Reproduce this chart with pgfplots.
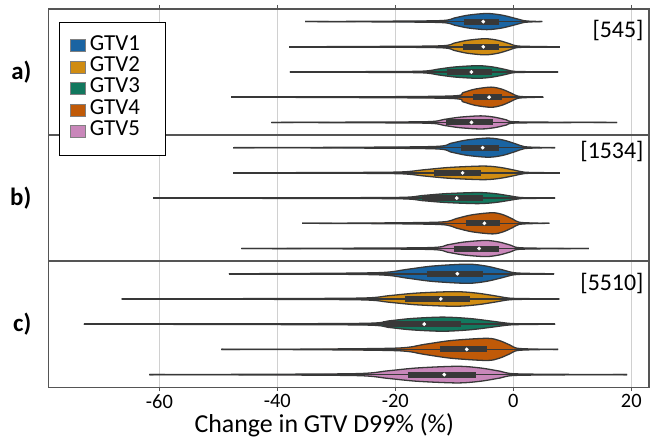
\documentclass[border=0pt]{standalone}
\usepackage{fontspec}
\setmainfont{Carlito}
\usepackage{pgfplots}
\usepackage{pgfplotstable}
\pgfplotsset{compat=1.18}
\usepgfplotslibrary{fillbetween}

\definecolor{gtvone}{HTML}{1A64A2}
\definecolor{gtvtwo}{HTML}{D08C12}
\definecolor{gtvthree}{HTML}{12785E}
\definecolor{gtvfour}{HTML}{C05A08}
\definecolor{gtvfive}{HTML}{C987BA}
\definecolor{vline}{HTML}{383838}
\definecolor{framegray}{HTML}{555555}
\definecolor{gridgray}{HTML}{D0D0D0}

% violin outlines: x = change (%), h = half width (one row = 1)
% panel a) [545]
\pgfplotstableread{
x h
-35.3 0
-23.8 0.012
-12.3 0.038
-9.96 0.144
-7.62 0.256
-4.5 0.32
-1.94 0.256
0.3 0.128
1.9 0.032
3.4 0.01
4.9 0
}\vaa
\pgfplotstableread{
x h
-38.0 0
-25.2 0.012
-12.3 0.038
-10.05 0.144
-7.8 0.256
-4.8 0.32
-2.6 0.256
-0.7 0.128
0.7 0.032
4.3 0.01
7.9 0
}\vab
\pgfplotstableread{
x h
-37.9 0
-26.8 0.012
-15.7 0.03
-12.8 0.112
-9.9 0.2
-6.0 0.25
-3.5 0.2
-1.35 0.1
0.2 0.025
3.9 0.01
7.6 0
}\vac
\pgfplotstableread{
x h
-47.8 0
-29.2 0.012
-10.6 0.048
-8.56 0.18
-6.52 0.32
-3.8 0.40
-1.96 0.32
-0.35 0.16
0.8 0.04
2.95 0.01
5.1 0
}\vad
\pgfplotstableread{
x h
-41.0 0
-27.8 0.012
-14.5 0.031
-11.8 0.117
-9.1 0.208
-5.5 0.26
-3.2 0.208
-1.2 0.104
0.2 0.026
8.9 0.008
17.6 0
}\vae
% panel b) [1534]
\pgfplotstableread{
x h
-47.5 0
-30.5 0.012
-13.4 0.046
-10.64 0.171
-7.88 0.304
-4.2 0.38
-1.76 0.304
0.38 0.152
1.9 0.038
4.5 0.01
7.1 0
}\vba
\pgfplotstableread{
x h
-47.5 0
-33.6 0.012
-19.6 0.032
-15.2 0.122
-10.8 0.216
-5.0 0.27
-2.24 0.216
0.18 0.108
1.9 0.027
4.9 0.01
7.9 0
}\vbb
\pgfplotstableread{
x h
-61.0 0
-40.3 0.012
-19.6 0.026
-15.5 0.099
-11.4 0.176
-6.0 0.22
-3.1 0.176
-0.6 0.088
1.2 0.022
4.15 0.01
7.1 0
}\vbc
\pgfplotstableread{
x h
-35.8 0
-24.0 0.012
-12.3 0.05
-9.66 0.189
-7.02 0.336
-3.5 0.42
-1.7 0.336
-0.1 0.168
1.0 0.042
3.55 0.01
6.1 0
}\vbd
\pgfplotstableread{
x h
-46.1 0
-30.0 0.012
-14.0 0.038
-11.2 0.144
-8.4 0.256
-4.7 0.32
-2.4 0.256
-0.4 0.128
1.0 0.032
6.9 0.008
12.8 0
}\vbe
% panel c) [5510]
\pgfplotstableread{
x h
-48.2 0
-35.4 0.012
-22.5 0.046
-18.1 0.171
-13.7 0.304
-7.8 0.38
-4.6 0.304
-1.8 0.152
0.2 0.038
3.55 0.01
6.9 0
}\vca
\pgfplotstableread{
x h
-66.4 0
-46.2 0.012
-25.9 0.035
-21.1 0.13
-16.4 0.232
-10.0 0.29
-6.2 0.232
-2.9 0.116
-0.5 0.029
3.65 0.01
7.8 0
}\vcb
\pgfplotstableread{
x h
-72.8 0
-49.0 0.012
-25.2 0.034
-21.24 0.126
-17.3 0.224
-12.0 0.28
-7.4 0.224
-3.4 0.112
-0.5 0.028
3.3 0.01
7.1 0
}\vcc
\pgfplotstableread{
x h
-49.5 0
-34.6 0.012
-19.6 0.053
-15.1 0.198
-10.5 0.352
-4.5 0.44
-2.4 0.352
-0.6 0.176
0.7 0.044
4.15 0.01
7.6 0
}\vcd
\pgfplotstableread{
x h
-61.7 0
-44.0 0.012
-26.4 0.04
-21.3 0.149
-16.3 0.264
-9.5 0.33
-5.6 0.264
-2.2 0.132
0.2 0.033
9.75 0.008
19.3 0
}\vce

% #1 id, #2 row, #3 colour, #4 table, #5 min, #6 max, #7 q1, #8 q3, #9 median
\newcommand{\violin}[9]{%
  \addplot[forget plot, draw=vline, line width=1.3pt, smooth, name path=up#1]
    table[x=x, y expr=#2+\thisrow{h}] {#4};
  \addplot[forget plot, draw=vline, line width=1.3pt, smooth, name path=dn#1]
    table[x=x, y expr=#2-\thisrow{h}] {#4};
  \addplot[forget plot, fill=#3, draw=none] fill between[of=up#1 and dn#1];
  \addplot[forget plot, vline, line width=1.6pt] coordinates {(#5,#2) (#6,#2)};
  \addplot[forget plot, vline, line width=6pt] coordinates {(#7,#2) (#8,#2)};
  \addplot[forget plot, only marks, mark=*, mark size=1.7pt, white] coordinates {(#9,#2)};
}

\begin{document}
\begin{tikzpicture}
\path (0pt,0pt) rectangle (653pt,443pt);
\begin{axis}[
  at={(49pt,54pt)}, anchor=south west,
  scale only axis, width=603pt, height=380pt,
  set layers,
  xmin=-78.75, xmax=23, ymin=0, ymax=15, y dir=reverse,
  xtick={-60,-40,-20,0,20},
  ytick={2.5,7.5,12.5}, yticklabels={a),b),c)},
  ytick style={draw=none},
  tick align=outside, major tick length=4pt,
  xtick style={framegray, line width=1pt},
  xmajorgrids, grid style={gridgray, line width=1.3pt},
  extra y ticks={5,10}, extra y tick labels={},
  extra y tick style={grid=major, major grid style={framegray, line width=1.3pt}, tick style={draw=none}},
  axis line style={framegray, line width=1.3pt},
  /pgf/number format/assume math mode=true,
  xticklabel style={font=\fontsize{20.5}{20.5}\selectfont},
  yticklabel style={font=\bfseries\fontsize{25}{25}\selectfont, xshift=-10pt},
  xlabel={Change in GTV D99\% (\%)},
  xlabel style={font=\fontsize{26}{26}\selectfont, at={(axis description cs:0.459,-0.1)}, anchor=center},
  legend image code/.code={\draw[#1, draw=gray] (0pt,-6pt) rectangle (15pt,6pt);},
  legend style={at={(axis description cs:0.0166,0.966)}, anchor=north west,
    draw=black, line width=0.8pt, inner xsep=11pt, inner ysep=13pt,
    font=\fontsize{23}{23}\selectfont,
    nodes={inner ysep=0pt, inner xsep=4pt, text height=15pt, text depth=6.5pt}},
  legend cell align=left,
]
\addlegendimage{fill=gtvone}\addlegendentry{GTV1\hspace*{11pt}}
\addlegendimage{fill=gtvtwo}\addlegendentry{GTV2}
\addlegendimage{fill=gtvthree}\addlegendentry{GTV3}
\addlegendimage{fill=gtvfour}\addlegendentry{GTV4}
\addlegendimage{fill=gtvfive}\addlegendentry{GTV5}

\violin{aa}{0.5}{gtvone}{\vaa}{-35.3}{4.9}{-8.3}{-2.4}{-5.1}
\violin{ab}{1.5}{gtvtwo}{\vab}{-38.0}{7.9}{-8.5}{-2.5}{-5.1}
\violin{ac}{2.5}{gtvthree}{\vac}{-37.9}{7.6}{-11.3}{-3.7}{-7.1}
\violin{ad}{3.5}{gtvfour}{\vad}{-47.8}{5.1}{-6.8}{-1.9}{-4.1}
\violin{ae}{4.5}{gtvfive}{\vae}{-41.0}{17.6}{-11.5}{-3.4}{-7.1}

\violin{ba}{5.5}{gtvone}{\vba}{-47.5}{7.1}{-8.9}{-2.5}{-5.2}
\violin{bb}{6.5}{gtvtwo}{\vbb}{-47.5}{7.9}{-13.4}{-5.4}{-8.6}
\violin{bc}{7.5}{gtvthree}{\vbc}{-61.0}{7.1}{-15.5}{-5.2}{-9.6}
\violin{bd}{8.5}{gtvfour}{\vbd}{-35.8}{6.1}{-8.1}{-2.2}{-4.9}
\violin{be}{9.5}{gtvfive}{\vbe}{-46.1}{12.8}{-10.0}{-2.5}{-5.8}

\violin{ca}{10.5}{gtvone}{\vca}{-48.2}{6.9}{-14.7}{-5.2}{-9.5}
\violin{cb}{11.5}{gtvtwo}{\vcb}{-66.4}{7.8}{-18.3}{-7.4}{-12.3}
\violin{cc}{12.5}{gtvthree}{\vcc}{-72.8}{7.1}{-22.1}{-8.8}{-15.1}
\violin{cd}{13.5}{gtvfour}{\vcd}{-49.5}{7.6}{-12.5}{-4.4}{-7.9}
\violin{ce}{14.5}{gtvfive}{\vce}{-61.7}{19.3}{-17.9}{-6.4}{-11.7}

\node[anchor=east, inner sep=0pt, font=\fontsize{24}{24}\selectfont] at (axis cs:22.1,0.87) {[545]};
\node[anchor=east, inner sep=0pt, font=\fontsize{24}{24}\selectfont] at (axis cs:22.1,5.67) {[1534]};
\node[anchor=east, inner sep=0pt, font=\fontsize{24}{24}\selectfont] at (axis cs:22.1,10.87) {[5510]};
\end{axis}
\end{tikzpicture}
\end{document}
